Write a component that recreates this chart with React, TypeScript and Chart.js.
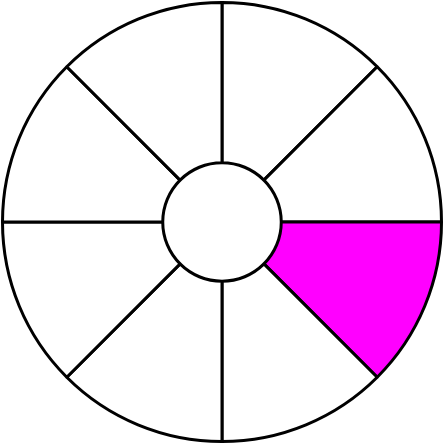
import React, { useEffect, useRef } from "react";
import { Chart, registerables } from "chart.js";

Chart.register(...registerables);

const labels = ["1", "2", "3", "4", "5", "6", "7", "8"];
const values = [1, 1, 1, 1, 1, 1, 1, 1];
const colors = ["#ffffff", "#ffffff", "#ff00ff", "#ffffff", "#ffffff", "#ffffff", "#ffffff", "#ffffff"];

export default function App() {
  const ref = useRef<HTMLCanvasElement | null>(null);
  useEffect(() => {
    document.body.style.margin = "0";
    const chart = new Chart(ref.current!, {
      type: "doughnut",
      data: {
        labels,
        datasets: [
          {
            data: values,
            backgroundColor: colors,
            borderColor: "#000000",
            borderWidth: 3,
          },
        ],
      },
      options: {
        responsive: false,
        animation: false,
        cutout: "27%",
        layout: { padding: 1 },
        plugins: { legend: { display: false }, tooltip: { enabled: false } },
      },
    });
    return () => chart.destroy();
  }, []);
  return <canvas ref={ref} width={444} height={444} style={{ display: "block" }} />;
}
